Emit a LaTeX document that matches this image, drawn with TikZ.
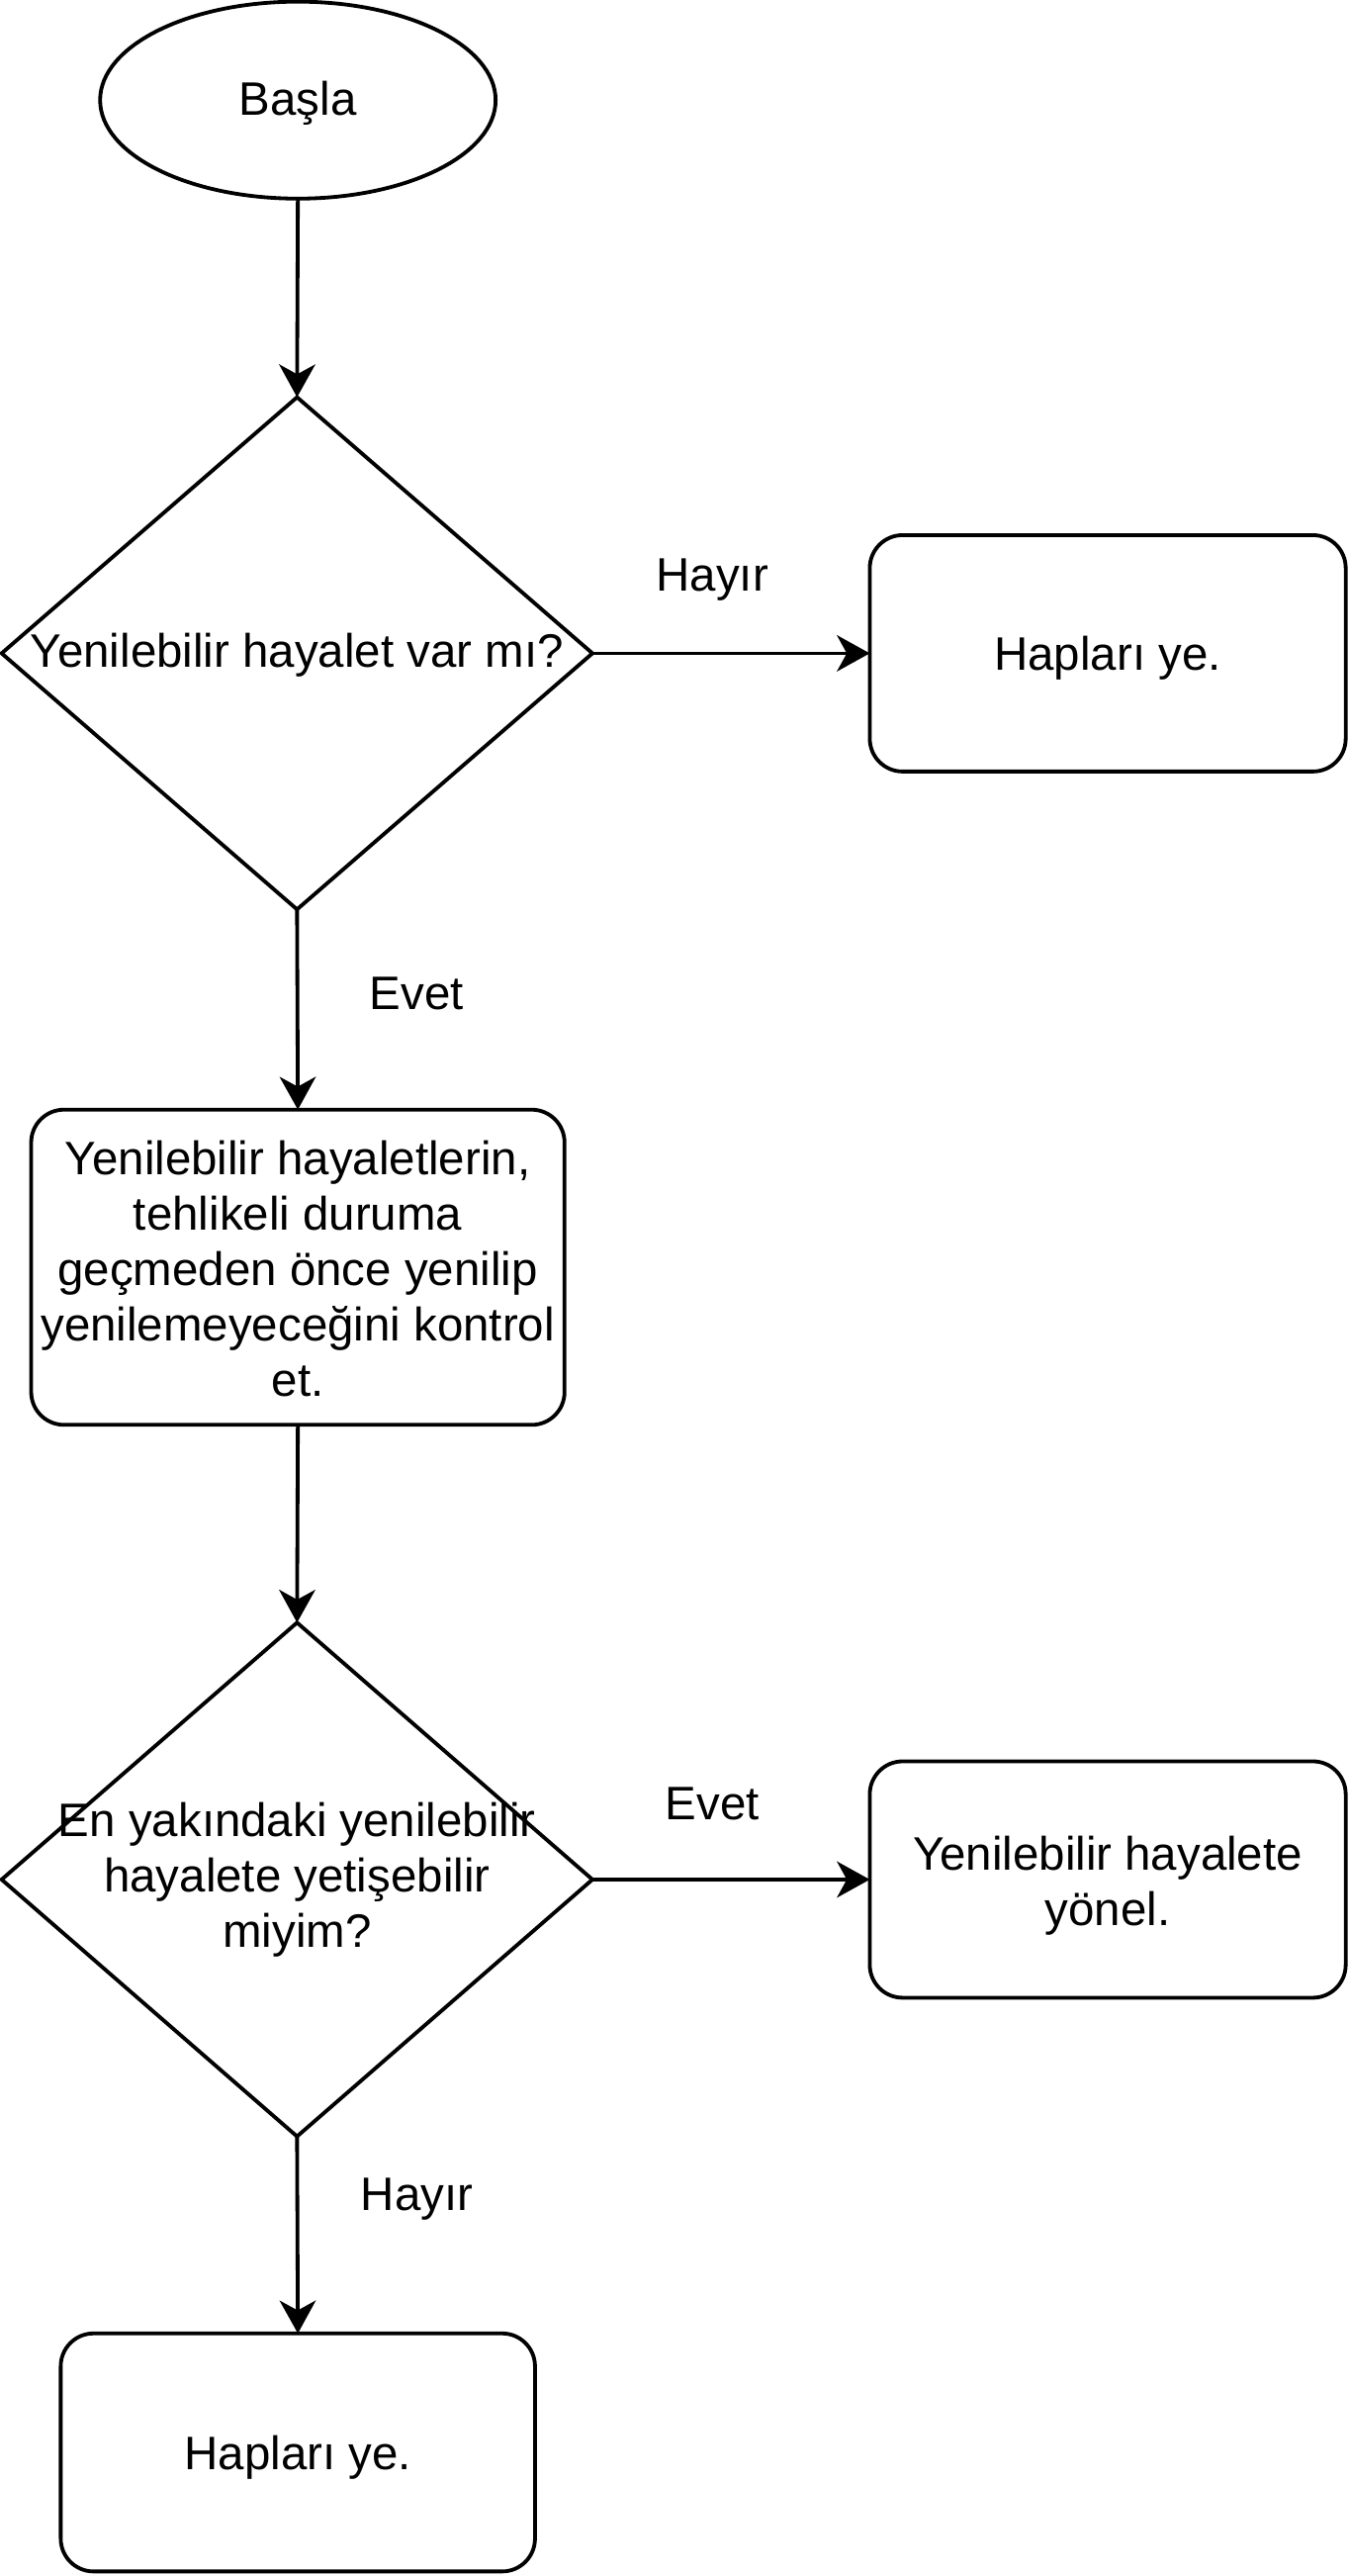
\documentclass[tikz,border=0pt]{standalone}
\usepackage{fontspec}
\setmainfont{Liberation Sans}
\usetikzlibrary{shapes.geometric,arrows.meta}
\begin{document}
\begin{tikzpicture}[x=1pt,y=-1pt,
  txt/.style={font=\fontsize{28.6}{33.8}\selectfont, align=center, inner sep=0pt, outer sep=0pt},
  shp/.style={draw, line width=2.3pt, inner sep=0pt, outer sep=0pt},
  oval/.style={shp, ellipse, minimum width=241pt, minimum height=120pt},
  dia/.style={shp, diamond, minimum width=360pt, minimum height=312pt},
  rbox/.style={shp, rectangle, rounded corners=20pt},
  arr/.style={line width=2.3pt, -{Stealth[length=20pt,width=22pt,inset=6pt]}}
]
\useasboundingbox (0,0) rectangle (822,1569.3);

\node[oval] (start) at (181.5,61) {};
\node[txt] (startt) at (181.5,63) {Başla};

\node[dia] (d1) at (181,398) {};
\node[txt] (d1t) at (181,399) {Yenilebilir hayalet var mı?};

\node[rbox, minimum width=290pt, minimum height=144pt] (r1) at (675,398) {};
\node[txt] (r1t) at (675,401) {Hapları ye.};

\node[rbox, minimum width=325pt, minimum height=192pt] (r2) at (181.5,772) {};
\node[txt] (r2t) at (181.5,773) {Yenilebilir hayaletlerin,\\tehlikeli duruma\\geçmeden önce yenilip\\yenilemeyeceğini kontrol\\et.};

\node[dia, minimum height=313pt] (d2) at (181,1145) {};
\node[txt] (d2t) at (181,1145) {En yakındaki yenilebilir\\hayalete yetişebilir\\miyim?};

\node[rbox, minimum width=290pt, minimum height=144pt] (r3) at (675,1145) {};
\node[txt] (r3t) at (675,1149) {Yenilebilir hayalete\\yönel.};

\node[rbox, minimum width=289pt, minimum height=145pt] (r4) at (181.5,1494) {};
\node[txt] (r4t) at (181.5,1497) {Hapları ye.};

\draw[arr] (start.south) -- (d1.north);
\draw[arr] (d1.east) -- (r1.west);
\draw[arr] (d1.south) -- (r2.north);
\draw[arr] (r2.south) -- (d2.north);
\draw[arr] (d2.east) -- (r3.west);
\draw[arr] (d2.south) -- (r4.north);

\node[txt] (l1) at (434,353) {Hayır};
\node[txt] (l2) at (254,605) {Evet};
\node[txt] (l3) at (434,1099) {Evet};
\node[txt] (l4) at (254,1340) {Hayır};
\end{tikzpicture}
\end{document}
